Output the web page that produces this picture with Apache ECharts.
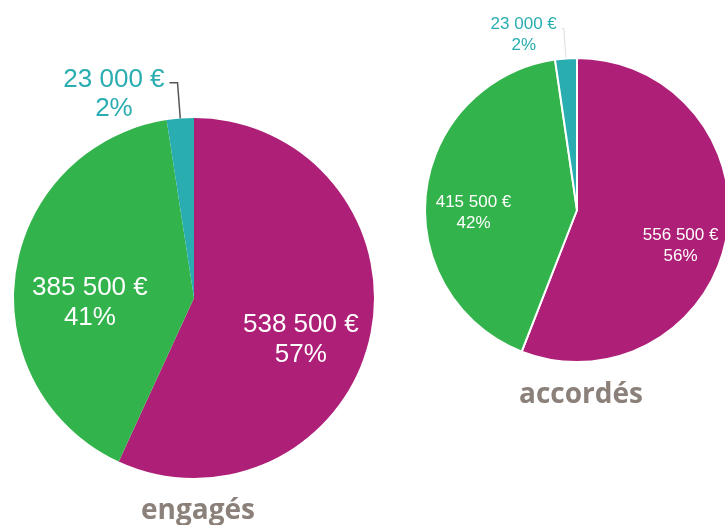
<!DOCTYPE html>
<html>
<head>
<meta charset="utf-8">
<script src="https://cdn.jsdelivr.net/npm/echarts@6/dist/echarts.min.js"></script>
<style>html,body{margin:0;padding:0;background:#fff;}#c{width:725px;height:525px;}</style>
</head>
<body>
<div id="c"></div>
<script>
var categories = ['magenta', 'vert', 'turquoise'];
var engagesValues = [538500, 385500, 23000];
var engagesPercents = ['57%', '41%', '2%'];
var accordesValues = [556500, 415500, 23000];
var accordesPercents = ['56%', '42%', '2%'];
var titles = ['engagés', 'accordés'];
var colors = ['#AE1F77', '#33B34B', '#29ADB1'];

function fmt(v) {
  return String(v).replace(/\B(?=(\d{3})+(?!\d))/g, ' ') + ' €';
}

function buildData(values, percents, big) {
  var insideOffsets = big ? [[16, 22], [-12, 18]] : [[26, 21], [-25, 12]];
  return values.map(function (v, i) {
    var item = {
      name: categories[i],
      value: v,
      itemStyle: { color: colors[i] }
    };
    var txt = fmt(v) + '\n' + percents[i];
    if (i < 2) {
      item.label = {
        show: true,
        position: 'inside',
        formatter: txt,
        color: '#ffffff',
        fontFamily: 'Liberation Sans',
        fontSize: big ? 26 : 17,
        lineHeight: big ? 30 : 21,
        align: 'center',
        offset: insideOffsets[i]
      };
      item.labelLine = { show: false };
    } else {
      var fs = big ? 26 : 17;
      var lh = big ? 29 : 21;
      item.label = {
        show: true,
        position: 'outside',
        formatter: '{s| }\n{t|' + fmt(v) + '}\n{t|' + percents[i] + '}',
        align: 'center',
        rich: {
          s: { fontSize: 1, lineHeight: big ? 24 : 12 },
          t: {
            color: '#2AADB0',
            fontFamily: 'Liberation Sans',
            fontSize: fs,
            lineHeight: lh,
            align: 'center'
          }
        }
      };
      item.labelLine = {
        show: true,
        length: big ? 36 : 30,
        length2: big ? 8 : 2,
        smooth: false,
        lineStyle: big ? { color: '#555555', width: 1.5 } : { color: '#dddddd', width: 1 }
      };
    }
    return item;
  });
}

var chart = echarts.init(document.getElementById('c'), null, { renderer: 'canvas' });
chart.setOption({
  backgroundColor: '#ffffff',
  animation: false,
  title: [
    {
      text: titles[0], left: 193, top: 492, textAlign: 'center',
      textStyle: { color: '#8B817A', fontFamily: 'Open Sans', fontWeight: 'bold', fontSize: 28 }
    },
    {
      text: titles[1], left: 576, top: 376, textAlign: 'center',
      textStyle: { color: '#8B817A', fontFamily: 'Open Sans', fontWeight: 'bold', fontSize: 28 }
    }
  ],
  series: [
    {
      type: 'pie',
      center: [194, 298],
      radius: [0, 180],
      startAngle: 90,
      clockwise: true,
      avoidLabelOverlap: false,
      itemStyle: { borderWidth: 0 },
      emphasis: { disabled: true },
      data: buildData(engagesValues, engagesPercents, true)
    },
    {
      type: 'pie',
      center: [577, 210],
      radius: [0, 152],
      startAngle: 90,
      clockwise: true,
      avoidLabelOverlap: false,
      itemStyle: { borderWidth: 2, borderColor: '#ffffff' },
      emphasis: { disabled: true },
      data: buildData(accordesValues, accordesPercents, false)
    }
  ]
});
</script>
</body>
</html>
